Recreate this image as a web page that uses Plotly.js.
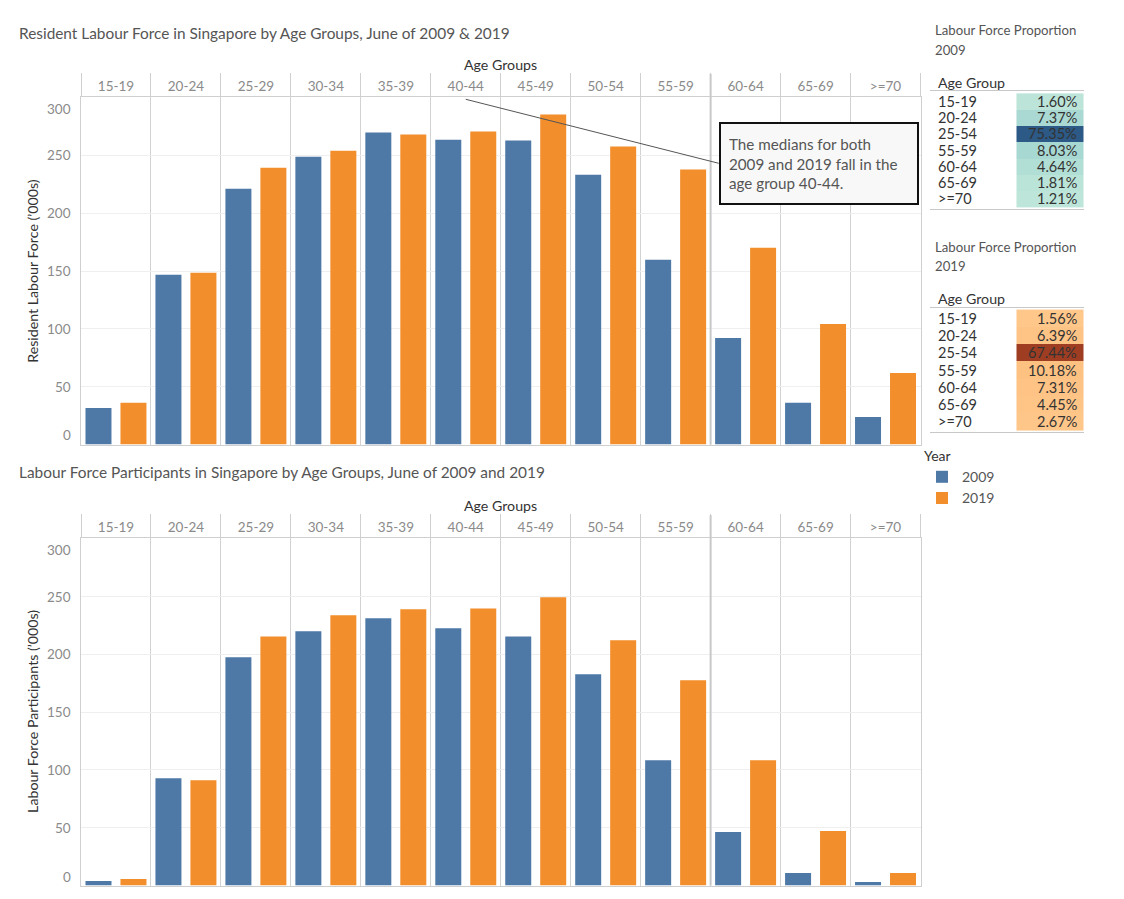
<!DOCTYPE html>
<html>
<head>
<meta charset="utf-8">
<script src="https://cdn.plot.ly/plotly-3.0.1.min.js"></script>
<style>
	body { margin: 0; background: #fff; }
	#chart { width: 1124px; height: 899px; }
</style>
</head>
<body>
<div id="chart"></div>
<script>
// --- DATA ---
const ageGroups = ['15-19', '20-24', '25-29', '30-34', '35-39', '40-44', '45-49', '50-54', '55-59', '60-64', '65-69', '>=70'];
const resident2009 = [31.6, 146.8, 221.2, 248.9, 269.7, 263.6, 262.8, 233.3, 159.7, 92.2, 36.0, 23.8];
const resident2019 = [36.2, 148.5, 239.4, 254.1, 268.0, 270.6, 285.3, 257.6, 237.7, 170.1, 104.3, 61.9];
const participants2009 = [3.9, 92.9, 197.5, 220.0, 231.2, 222.6, 215.6, 182.8, 108.5, 46.2, 10.8, 3.0];
const participants2019 = [5.6, 91.2, 215.6, 233.8, 239.0, 239.8, 249.4, 212.2, 177.6, 108.5, 47.1, 10.8];

const propGroups = ['15-19', '20-24', '25-54', '55-59', '60-64', '65-69', '>=70'];
const prop2009 = [1.60, 7.37, 75.35, 8.03, 4.64, 1.81, 1.21];
const prop2019 = [1.56, 6.39, 67.44, 10.18, 7.31, 4.45, 2.67];

const yTicks = [0, 50, 100, 150, 200, 250, 300];

// --- STYLE ---
const W = 1124, H = 899;
const FONT = 'Lato, "Open Sans", sans-serif';
const BLUE = '#4e79a7', ORANGE = '#f28e2b';
const px = x => x / W;          // pixel -> paper x
const py = y => 1 - y / H;      // pixel -> paper y

// plot boxes in pixels
const top1 = 97, bot1 = 444.5, top2 = 538.3, bot2 = 885.5, left = 81, right = 920.5;
const headerH = 23;

function barAxisX(anchor) {
	return {
		anchor: anchor, side: 'top', type: 'category',
		domain: [px(left), px(right)],
		tickson: 'boundaries', ticks: 'outside', ticklen: headerH, tickcolor: '#cfcfcf', tickwidth: 1,
		tickfont: { family: FONT, size: 13.5, color: '#8a8a8a' },
		showgrid: true, gridcolor: '#d2d2d2', gridwidth: 1,
		showline: true, linecolor: '#cfcfcf', linewidth: 1, mirror: true,
		zeroline: false, fixedrange: true
	};
}
function barAxisY(anchor, yTop, yBot) {
	return {
		anchor: anchor, domain: [py(yBot), py(yTop)], range: [0, 300.5],
		tickvals: yTicks, ticks: '', showticklabels: false,
		showgrid: true, gridcolor: '#efefef', gridwidth: 1,
		showline: true, linecolor: '#cfcfcf', linewidth: 1, mirror: true,
		zeroline: false, fixedrange: true
	};
}
function tableAxisX(anchor) {
	return {
		anchor: anchor, domain: [px(930), px(1084)], range: [0, 154],
		ticks: '', showticklabels: false, showgrid: false, zeroline: false,
		showline: true, linecolor: '#c8c8c8', linewidth: 1, mirror: true, fixedrange: true
	};
}
function tableAxisY(anchor, yTop, yBot) {
	return {
		anchor: anchor, domain: [py(yBot), py(yTop)], type: 'category',
		categoryarray: propGroups, autorange: 'reversed',
		ticks: '', showticklabels: false,
		showgrid: false, zeroline: false, showline: false, fixedrange: true
	};
}

// --- TRACES ---
const traces = [
	{ type: 'bar', x: ageGroups, y: resident2009, name: '2009', marker: { color: BLUE }, xaxis: 'x', yaxis: 'y', legendgroup: 'a' },
	{ type: 'bar', x: ageGroups, y: resident2019, name: '2019', marker: { color: ORANGE }, xaxis: 'x', yaxis: 'y', legendgroup: 'b' },
	{ type: 'bar', x: ageGroups, y: participants2009, name: '2009', marker: { color: BLUE }, xaxis: 'x2', yaxis: 'y2', showlegend: false },
	{ type: 'bar', x: ageGroups, y: participants2019, name: '2019', marker: { color: ORANGE }, xaxis: 'x2', yaxis: 'y2', showlegend: false },
	// proportion tables: coloured value cells
	{
		type: 'heatmap', z: prop2009.map(v => [v]), y: propGroups, x0: 120, dx: 67,
		colorscale: [[0, '#bde5d9'], [0.1, '#a5d7d1'], [0.5, '#4fa6bb'], [1, '#2c5985']],
		showscale: false, xaxis: 'x3', yaxis: 'y3', hoverinfo: 'skip'
	},
	{
		type: 'heatmap', z: prop2019.map(v => [v]), y: propGroups, x0: 120, dx: 67,
		colorscale: [[0, '#ffc78a'], [0.15, '#fdc081'], [0.5, '#ef7f3e'], [1, '#9e3d22']],
		showscale: false, xaxis: 'x4', yaxis: 'y4', hoverinfo: 'skip'
	}
];

// --- ANNOTATIONS ---
function label(text, x, y, size, color, opts) {
	return Object.assign({
		text: text, xref: 'paper', yref: 'paper', x: px(x), y: py(y),
		xanchor: 'left', yanchor: 'middle', showarrow: false,
		font: { family: FONT, size: size, color: color }
	}, opts || {});
}
const annotations = [
	label('Resident Labour Force in Singapore by Age Groups, June of 2009 &amp; 2019', 17, 33, 15.4, '#555'),
	label('Age Groups', (left + right) / 2, 64, 14.2, '#333', { xanchor: 'center' }),
	label('Resident Labour Force (’000s)', 33, (top1 + bot1) / 2, 14.2, '#333', { xanchor: 'center', textangle: -90 }),
	label('Labour Force Participants in Singapore by Age Groups, June of 2009 and 2019', 17, 472, 15.4, '#555'),
	label('Age Groups', (left + right) / 2, 505.7, 14.2, '#333', { xanchor: 'center' }),
	label('Labour Force Participants (’000s)', 33, (top2 + bot2) / 2, 14.2, '#333', { xanchor: 'center', textangle: -90 }),

	label('Labour Force Proportion', 933, 30.5, 13.2, '#555'),
	label('2009', 933, 49.5, 13.2, '#555'),
	label('Age Group', 936, 82, 14.2, '#333'),
	label('Labour Force Proportion', 933, 247, 13.2, '#555'),
	label('2019', 933, 265.5, 13.2, '#555'),
	label('Age Group', 936, 298.5, 14.2, '#333'),

	// callout on the top chart
	{
		text: 'The medians for both<br>2009 and 2019 fall in the<br>age group 40-44.',
		xref: 'x', yref: 'y', x: '40-44', y: 298.5,
		showarrow: true, arrowhead: 0, arrowwidth: 1, arrowcolor: '#555',
		ax: 253, ay: 64, xanchor: 'left', yanchor: 'middle',
		align: 'left', valign: 'middle', width: 180, height: 63,
		bgcolor: '#f8f8f8', bordercolor: '#111', borderwidth: 2, borderpad: 8,
		font: { family: FONT, size: 15.2, color: '#555' }
	}
];

// table row labels and values
[[prop2009, 'x3', 'y3'], [prop2019, 'x4', 'y4']].forEach(([vals, xa, ya]) => {
	propGroups.forEach((g, i) => {
		const base = {
			xref: xa, yref: ya, y: g, yanchor: 'middle', showarrow: false,
			font: { family: FONT, size: 14.5, color: '#333' }
		};
		annotations.push(Object.assign({ text: g, x: 6, xanchor: 'left' }, base));
		annotations.push(Object.assign({ text: vals[i].toFixed(2) + '%', x: 149, xanchor: 'right' }, base));
	});
});

// value-axis labels, Tableau style: end labels pulled inside the pane
['y', 'y2'].forEach(ya => {
	yTicks.forEach((v, i) => {
		annotations.push({
			text: String(v), xref: 'paper', yref: ya, x: px(73), y: v,
			xanchor: 'right', yanchor: 'middle', showarrow: false,
			yshift: i === 0 ? 9 : (i === yTicks.length - 1 ? -11 : 0),
			font: { family: FONT, size: 13.5, color: '#8a8a8a' }
		});
	});
});

// heavier divider between 55-59 and 60-64
const divIdx = ageGroups.indexOf('60-64') - 0.5;
const shapes = [
	{ type: 'line', xref: 'x', yref: 'y domain', x0: divIdx, x1: divIdx, y0: 0, y1: 1 + headerH / (bot1 - top1), line: { color: '#c8c8c8', width: 2 } },
	{ type: 'line', xref: 'x2', yref: 'y2 domain', x0: divIdx, x1: divIdx, y0: 0, y1: 1 + headerH / (bot2 - top2), line: { color: '#c8c8c8', width: 2 } }
];

const layout = {
	width: W, height: H,
	margin: { l: 0, r: 0, t: 0, b: 0 },
	paper_bgcolor: '#fff', plot_bgcolor: 'rgba(0,0,0,0)',
	font: { family: FONT, color: '#555' },
	barmode: 'group', bargap: 0, bargroupgap: 0.257,
	xaxis: barAxisX('y'), yaxis: barAxisY('x', top1, bot1),
	xaxis2: barAxisX('y2'), yaxis2: barAxisY('x2', top2, bot2),
	xaxis3: tableAxisX('y3'), yaxis3: tableAxisY('x3', 91, 209.3),
	xaxis4: tableAxisX('y4'), yaxis4: tableAxisY('x4', 307.7, 432.3),
	showlegend: true,
	legend: {
		x: px(922), y: py(443), xanchor: 'left', yanchor: 'top',
		title: { text: 'Year', font: { family: FONT, size: 14, color: '#333' } },
		font: { family: FONT, size: 14, color: '#555' },
		bgcolor: 'rgba(0,0,0,0)', tracegroupgap: 0, itemwidth: 30
	},
	annotations: annotations,
	shapes: shapes
};

Plotly.newPlot('chart', traces, layout, { displayModeBar: false, staticPlot: true });
</script>
</body>
</html>
